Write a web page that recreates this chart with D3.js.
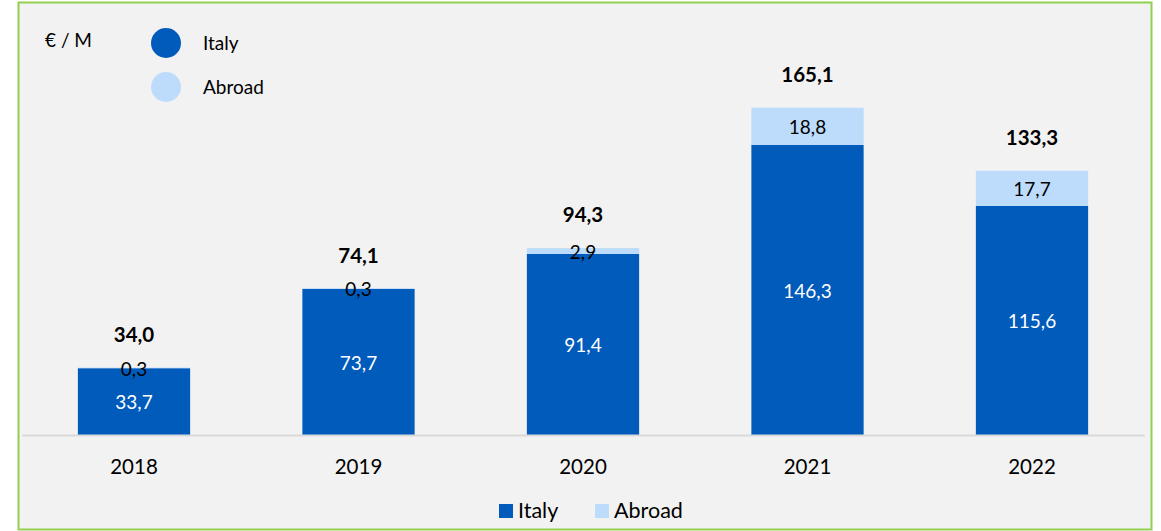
<!DOCTYPE html>
<html>
<head>
<meta charset="utf-8">
<script src="https://cdn.jsdelivr.net/npm/d3@7"></script>
<style>
  html, body { margin: 0; padding: 0; background: #ffffff; }
  svg { display: block; font-family: Lato, "Open Sans", sans-serif; }
</style>
</head>
<body>
<svg id="chart" width="1161" height="531"></svg>
<script>
const years = ["2018", "2019", "2020", "2021", "2022"];
const italy = [33.7, 73.7, 91.4, 146.3, 115.6];
const abroad = [0.3, 0.3, 2.9, 18.8, 17.7];
const totals = [34.0, 74.1, 94.3, 165.1, 133.3];
const seriesNames = ["Italy", "Abroad"];
const unitLabel = "€ / M";

const colors = { Italy: "#005BBB", Abroad: "#BDDCFB" };
const fmt = v => v.toFixed(1).replace(".", ",");

const svg = d3.select("#chart");

// panel background and border
svg.append("rect").attr("x", 18.5).attr("y", 2.5).attr("width", 1133).attr("height", 527)
  .attr("fill", "#F2F2F2").attr("stroke", "#92D050").attr("stroke-width", 2);

const baseY = 435;
const x = d3.scaleBand().domain(years).range([21.75, 1144.25]).paddingInner(0.5).paddingOuter(0.25);
const y = d3.scaleLinear().domain([0, 146.3]).range([baseY, 145]);

const rows = years.map((yr, i) => ({ year: yr, Italy: italy[i], Abroad: abroad[i], total: totals[i] }));
const stack = d3.stack().keys(seriesNames)(rows);

// bars
svg.append("g").selectAll("g").data(stack).join("g")
  .attr("fill", s => colors[s.key])
  .selectAll("rect").data(s => s.map(d => ({ d, key: s.key }))).join("rect")
  .attr("x", o => x(o.d.data.year))
  .attr("width", x.bandwidth())
  .attr("y", o => y(o.d[1]))
  .attr("height", o => y(o.d[0]) - y(o.d[1]));

// baseline axis
const axis = svg.append("g").attr("transform", `translate(0,${baseY})`)
  .call(d3.axisBottom(x).tickSize(0).tickPadding(0));
axis.select(".domain").attr("stroke", "#D9D9D9").attr("stroke-width", 2);
axis.selectAll("text").attr("font-family", "Lato, sans-serif").attr("font-size", 20.5)
  .attr("fill", "#000").attr("dy", null).attr("y", 33.5).attr("dominant-baseline", "middle");

// segment labels
stack.forEach(s => {
  svg.append("g").selectAll("text").data(s).join("text")
    .attr("x", d => x(d.data.year) + x.bandwidth() / 2)
    .attr("y", d => (y(d[0]) + y(d[1])) / 2 + 3)
    .attr("text-anchor", "middle").attr("dominant-baseline", "middle")
    .attr("font-size", 19)
    .attr("fill", s.key === "Italy" ? "#FFFFFF" : "#000000")
    .text(d => fmt(d.data[s.key]));
});

// totals
svg.append("g").selectAll("text").data(rows).join("text")
  .attr("x", d => x(d.year) + x.bandwidth() / 2)
  .attr("y", d => y(d.Italy + d.Abroad) - 31)
  .attr("text-anchor", "middle").attr("dominant-baseline", "middle")
  .attr("font-size", 20.5).attr("font-weight", "bold").attr("fill", "#000")
  .text(d => fmt(d.total));

// top-left legend
svg.append("text").attr("x", 45).attr("y", 42).attr("dominant-baseline", "middle")
  .attr("font-size", 19).attr("fill", "#000").text(unitLabel);
const tl = svg.append("g").selectAll("g").data(seriesNames).join("g")
  .attr("transform", (d, i) => `translate(166,${43 + i * 44})`);
tl.append("circle").attr("r", 15).attr("fill", d => colors[d]);
tl.append("text").attr("x", 37).attr("y", 2).attr("dominant-baseline", "middle")
  .attr("font-size", 19).attr("fill", "#000").text(d => d);

// bottom legend
const bl = svg.append("g").selectAll("g").data(seriesNames).join("g")
  .attr("transform", (d, i) => `translate(${499 + i * 96},504)`);
bl.append("rect").attr("width", 14).attr("height", 14).attr("fill", d => colors[d]);
bl.append("text").attr("x", 19).attr("y", 9).attr("dominant-baseline", "middle")
  .attr("font-size", 21.5).attr("fill", "#000").text(d => d);
</script>
</body>
</html>
